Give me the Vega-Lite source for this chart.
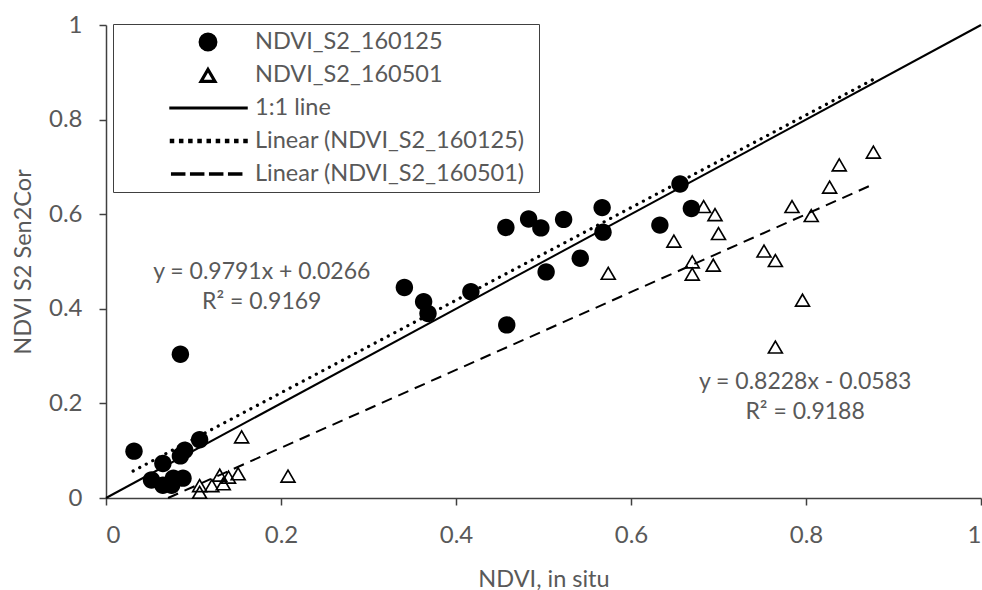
{
  "$schema": "https://vega.github.io/schema/vega-lite/v6.json",
  "width": 875,
  "height": 473,
  "autosize": {"type": "none"},
  "padding": {"left": 106, "top": 25, "right": 1, "bottom": 92},
  "background": "white",
  "config": {
    "view": {"stroke": null},
    "font": "Lato",
    "axis": {
      "grid": false,
      "domainColor": "#404040",
      "domainWidth": 1.5,
      "tickColor": "#404040",
      "tickWidth": 1.5,
      "tickSize": 7,
      "labelFont": "Lato",
      "labelFontSize": 24,
      "labelColor": "#595959",
      "titleFont": "Lato",
      "titleFontSize": 23.5,
      "titleFontWeight": "normal",
      "titleColor": "#595959"
    },
    "legend": {
      "orient": "none",
      "direction": "vertical",
      "legendX": 7,
      "legendY": -1,
      "padding": 2,
      "rowPadding": 1,
      "symbolSize": 900,
      "symbolStrokeWidth": 1.5,
      "symbolOffset": 77,
      "labelOffset": 31,
      "labelLimit": 0,
      "labelFont": "Lato",
      "labelFontSize": 23.5,
      "labelColor": "#595959",
      "strokeColor": "#404040",
      "fillColor": "white"
    }
  },
  "datasets": {
    "points": [
      {"series": "NDVI_S2_160125", "x": 0.032, "y": 0.099},
      {"series": "NDVI_S2_160125", "x": 0.085, "y": 0.304},
      {"series": "NDVI_S2_160125", "x": 0.107, "y": 0.123},
      {"series": "NDVI_S2_160125", "x": 0.090, "y": 0.101},
      {"series": "NDVI_S2_160125", "x": 0.085, "y": 0.089},
      {"series": "NDVI_S2_160125", "x": 0.065, "y": 0.073},
      {"series": "NDVI_S2_160125", "x": 0.052, "y": 0.038},
      {"series": "NDVI_S2_160125", "x": 0.065, "y": 0.027},
      {"series": "NDVI_S2_160125", "x": 0.077, "y": 0.042},
      {"series": "NDVI_S2_160125", "x": 0.075, "y": 0.027},
      {"series": "NDVI_S2_160125", "x": 0.088, "y": 0.042},
      {"series": "NDVI_S2_160125", "x": 0.341, "y": 0.445},
      {"series": "NDVI_S2_160125", "x": 0.363, "y": 0.415},
      {"series": "NDVI_S2_160125", "x": 0.368, "y": 0.390},
      {"series": "NDVI_S2_160125", "x": 0.417, "y": 0.436},
      {"series": "NDVI_S2_160125", "x": 0.457, "y": 0.572},
      {"series": "NDVI_S2_160125", "x": 0.458, "y": 0.366},
      {"series": "NDVI_S2_160125", "x": 0.483, "y": 0.590},
      {"series": "NDVI_S2_160125", "x": 0.497, "y": 0.571},
      {"series": "NDVI_S2_160125", "x": 0.523, "y": 0.589},
      {"series": "NDVI_S2_160125", "x": 0.503, "y": 0.478},
      {"series": "NDVI_S2_160125", "x": 0.542, "y": 0.507},
      {"series": "NDVI_S2_160125", "x": 0.567, "y": 0.614},
      {"series": "NDVI_S2_160125", "x": 0.568, "y": 0.562},
      {"series": "NDVI_S2_160125", "x": 0.633, "y": 0.577},
      {"series": "NDVI_S2_160125", "x": 0.656, "y": 0.664},
      {"series": "NDVI_S2_160125", "x": 0.669, "y": 0.612},
      {"series": "NDVI_S2_160501", "x": 0.155, "y": 0.130},
      {"series": "NDVI_S2_160501", "x": 0.208, "y": 0.047},
      {"series": "NDVI_S2_160501", "x": 0.151, "y": 0.052},
      {"series": "NDVI_S2_160501", "x": 0.140, "y": 0.045},
      {"series": "NDVI_S2_160501", "x": 0.130, "y": 0.049},
      {"series": "NDVI_S2_160501", "x": 0.134, "y": 0.031},
      {"series": "NDVI_S2_160501", "x": 0.121, "y": 0.027},
      {"series": "NDVI_S2_160501", "x": 0.107, "y": 0.027},
      {"series": "NDVI_S2_160501", "x": 0.107, "y": 0.013},
      {"series": "NDVI_S2_160501", "x": 0.574, "y": 0.476},
      {"series": "NDVI_S2_160501", "x": 0.649, "y": 0.544},
      {"series": "NDVI_S2_160501", "x": 0.683, "y": 0.617},
      {"series": "NDVI_S2_160501", "x": 0.696, "y": 0.600},
      {"series": "NDVI_S2_160501", "x": 0.700, "y": 0.560},
      {"series": "NDVI_S2_160501", "x": 0.670, "y": 0.500},
      {"series": "NDVI_S2_160501", "x": 0.670, "y": 0.474},
      {"series": "NDVI_S2_160501", "x": 0.694, "y": 0.493},
      {"series": "NDVI_S2_160501", "x": 0.752, "y": 0.523},
      {"series": "NDVI_S2_160501", "x": 0.765, "y": 0.503},
      {"series": "NDVI_S2_160501", "x": 0.796, "y": 0.419},
      {"series": "NDVI_S2_160501", "x": 0.765, "y": 0.320},
      {"series": "NDVI_S2_160501", "x": 0.784, "y": 0.617},
      {"series": "NDVI_S2_160501", "x": 0.806, "y": 0.598},
      {"series": "NDVI_S2_160501", "x": 0.827, "y": 0.658},
      {"series": "NDVI_S2_160501", "x": 0.838, "y": 0.705},
      {"series": "NDVI_S2_160501", "x": 0.877, "y": 0.732}
    ],
    "lines": [
      {"series": "1:1 line", "x": 0, "y": 0},
      {"series": "1:1 line", "x": 1, "y": 1},
      {"series": "Linear (NDVI_S2_160125)", "x": 0.031, "y": 0.057},
      {"series": "Linear (NDVI_S2_160125)", "x": 0.877, "y": 0.885},
      {"series": "Linear (NDVI_S2_160501)", "x": 0.0709, "y": 0},
      {"series": "Linear (NDVI_S2_160501)", "x": 0.877, "y": 0.6633}
    ],
    "notes": [
      {"x": 0.178, "y": 0.478, "text": "y = 0.9791x + 0.0266"},
      {"x": 0.178, "y": 0.414, "text": "R² = 0.9169"},
      {"x": 0.799, "y": 0.245, "text": "y = 0.8228x - 0.0583"},
      {"x": 0.799, "y": 0.182, "text": "R² = 0.9188"}
    ]
  },
  "layer": [
    {
      "data": {"name": "lines"},
      "transform": [{"filter": "datum.series === '1:1 line'"}],
      "mark": {"type": "line", "color": "black", "strokeWidth": 2},
      "encoding": {
        "x": {
          "field": "x", "type": "quantitative",
          "scale": {"domain": [0, 1], "nice": false, "zero": false},
          "axis": {"values": [0, 0.2, 0.4, 0.6, 0.8, 1], "format": "~g", "title": "NDVI, in situ", "labelPadding": 18, "titlePadding": 20}
        },
        "y": {
          "field": "y", "type": "quantitative",
          "scale": {"domain": [0, 1], "nice": false, "zero": false},
          "axis": {"values": [0, 0.2, 0.4, 0.6, 0.8, 1], "format": "~g", "title": "NDVI S2 Sen2Cor", "labelPadding": 17, "titlePadding": 13}
        }
      }
    },
    {
      "data": {"name": "lines"},
      "transform": [{"filter": "datum.series === 'Linear (NDVI_S2_160125)'"}],
      "mark": {"type": "line", "color": "black", "strokeWidth": 3.2, "strokeDash": [0.1, 7.3], "strokeCap": "round"},
      "encoding": {
        "x": {"field": "x", "type": "quantitative"},
        "y": {"field": "y", "type": "quantitative"}
      }
    },
    {
      "data": {"name": "lines"},
      "transform": [{"filter": "datum.series === 'Linear (NDVI_S2_160501)'"}],
      "mark": {"type": "line", "color": "black", "strokeWidth": 2, "strokeDash": [11, 7]},
      "encoding": {
        "x": {"field": "x", "type": "quantitative"},
        "y": {"field": "y", "type": "quantitative"}
      }
    },
    {
      "data": {"name": "points"},
      "mark": {"type": "point", "filled": true, "size": 900, "stroke": "black", "strokeWidth": 1.5, "strokeOpacity": 0, "opacity": 1},
      "encoding": {
        "x": {"field": "x", "type": "quantitative"},
        "y": {"field": "y", "type": "quantitative"},
        "shape": {
          "field": "series", "type": "nominal",
          "scale": {
            "domain": ["NDVI_S2_160125", "NDVI_S2_160501", "1:1 line", "Linear (NDVI_S2_160125)", "Linear (NDVI_S2_160501)"],
            "range": [
              "M-6.2,-0.807M21.7,0.807M-0.58,0A0.58,0.58,0,1,0,0.58,0A0.58,0.58,0,1,0,-0.58,0Z",
              "M-6.2,-0.807M21.7,0.807M0,-0.48L0.56,0.48L-0.56,0.48ZM0,-0.2617L-0.3685,0.37L0.3685,0.37Z",
              "M-6.2,-0.807M21.7,0.807M-2.53,-0.055H2.6V0.055H-2.53Z",
              "M-6.2,-0.807M21.7,0.807M-2.5,-0.1h0.2v0.2h-0.2ZM-1.8875,-0.1h0.2v0.2h-0.2ZM-1.275,-0.1h0.2v0.2h-0.2ZM-0.6625,-0.1h0.2v0.2h-0.2ZM-0.05,-0.1h0.2v0.2h-0.2ZM0.5625,-0.1h0.2v0.2h-0.2ZM1.175,-0.1h0.2v0.2h-0.2ZM1.7875,-0.1h0.2v0.2h-0.2ZM2.4,-0.1h0.2v0.2h-0.2Z",
              "M-6.2,-0.807M21.7,0.807M-2.42,-0.065H-1.553V0.065H-2.42ZM-1.153,-0.065H-0.287V0.065H-1.153ZM0.113,-0.065H0.98V0.065H0.113ZM1.38,-0.065H2.247V0.065H1.38Z"
            ]
          },
          "legend": {"title": null}
        },
        "fill": {
          "field": "series", "type": "nominal",
          "scale": {
            "domain": ["NDVI_S2_160125", "NDVI_S2_160501", "1:1 line", "Linear (NDVI_S2_160125)", "Linear (NDVI_S2_160501)"],
            "range": ["black", "black", "black", "black", "black"]
          },
          "legend": {"title": null}
        }
      }
    },
    {
      "data": {"name": "notes"},
      "mark": {"type": "text", "font": "Lato", "fontSize": 23, "color": "#595959", "align": "center", "baseline": "middle"},
      "encoding": {
        "x": {"field": "x", "type": "quantitative"},
        "y": {"field": "y", "type": "quantitative"},
        "text": {"field": "text", "type": "nominal"}
      }
    }
  ]
}
